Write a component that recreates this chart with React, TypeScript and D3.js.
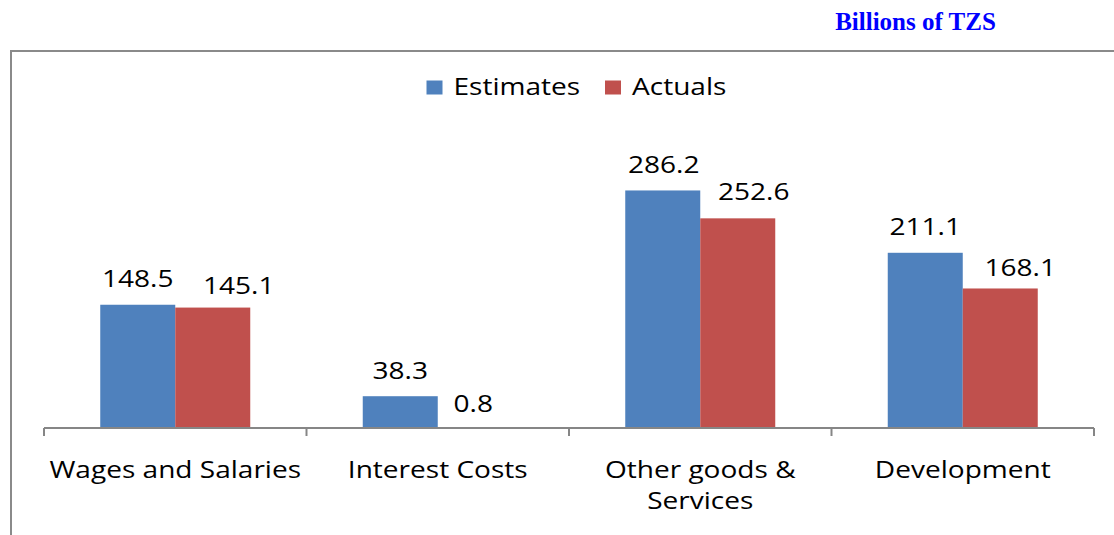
import React from "react";
import * as d3 from "d3";

const categories = ["Wages and Salaries", "Interest Costs", "Other goods & Services", "Development"];
const categoryLines = [["Wages and Salaries"], ["Interest Costs"], ["Other goods &", "Services"], ["Development"]];
const seriesNames = ["Estimates", "Actuals"];
const estimates = [148.5, 38.3, 286.2, 211.1];
const actuals = [145.1, 0.8, 252.6, 168.1];
const seriesColors = ["#4F81BD", "#C0504D"];

// hand-placed nudges for the data labels, [series][category] -> [dx, dy from bar top]
const labelNudge: [number, number][][] = [
  [[0, -17.5], [0, -17], [1, -17.7], [0, -17.5]],
  [[26, -14], [-2, -15.6], [16, -18], [20, -12]],
];

const W = 1114;
const H = 535;
const FONT = "'Open Sans', sans-serif";
const FS = 23;
const SX = 1.22;

function Label({ x, y, children, anchor = "middle" }: { x: number; y: number; children: React.ReactNode; anchor?: string }) {
  return (
    <text transform={`translate(${x},${y}) scale(${SX},1)`} textAnchor={anchor} fontFamily={FONT} fontSize={FS} fill="#000">
      {children}
    </text>
  );
}

export default function App() {
  const x0 = d3.scaleBand<string>().domain(categories).range([44, 1094]).paddingInner(0).paddingOuter(0);
  const x1 = d3.scaleBand<string>().domain(seriesNames).range([0, 150]);
  const groupOffset = (x0.bandwidth() - 150) / 2;
  const y = d3.scaleLinear().domain([0, 350]).range([428, 428 - 350 * 0.83]);
  const values = [estimates, actuals];
  const ticks = [...categories.map((c) => x0(c) as number), 1094];

  return (
    <div style={{ position: "absolute", left: 0, top: 0 }}>
      <svg width={W} height={H} style={{ display: "block" }}>
        <rect width={W} height={H} fill="#fff" />
        <text x={915.5} y={30} textAnchor="middle" fontFamily="'Liberation Serif', serif" fontWeight="bold" fontSize={25} fill="#0000FF">
          Billions of TZS
        </text>
        {/* chart frame */}
        <path d={`M11,${H + 5}V51H${W + 5}`} fill="none" stroke="#8a8a8a" strokeWidth={2} />
        {/* legend */}
        {seriesNames.map((s, i) => {
          const lx = [426.5, 605][i];
          return (
            <g key={s}>
              <rect x={lx} y={80.5} width={16} height={14} fill={seriesColors[i]} />
              <Label x={lx + 27} y={94.5} anchor="start">{s}</Label>
            </g>
          );
        })}
        {/* bars */}
        {categories.map((c, ci) => (
          <g key={c}>
            {seriesNames.map((s, si) => {
              const v = values[si][ci];
              const bx = (x0(c) as number) + groupOffset + (x1(s) as number);
              const [dx, dy] = labelNudge[si][ci];
              return (
                <g key={s}>
                  <rect x={bx} y={y(v)} width={x1.bandwidth()} height={y(0) - y(v)} fill={seriesColors[si]} />
                  <Label x={bx + x1.bandwidth() / 2 + dx} y={y(v) + dy}>{v.toFixed(1)}</Label>
                </g>
              );
            })}
          </g>
        ))}
        {/* category axis */}
        <line x1={44} x2={1094} y1={428} y2={428} stroke="#868686" strokeWidth={2} />
        {ticks.map((t, i) => (
          <line key={i} x1={t} x2={t} y1={428} y2={436} stroke="#868686" strokeWidth={2} />
        ))}
        {categories.map((c, ci) => (
          <Label key={c} x={(x0(c) as number) + x0.bandwidth() / 2} y={478}>
            {categoryLines[ci].map((ln, li) => (
              <tspan key={li} x={0} y={li * 31}>{ln}</tspan>
            ))}
          </Label>
        ))}
      </svg>
    </div>
  );
}
